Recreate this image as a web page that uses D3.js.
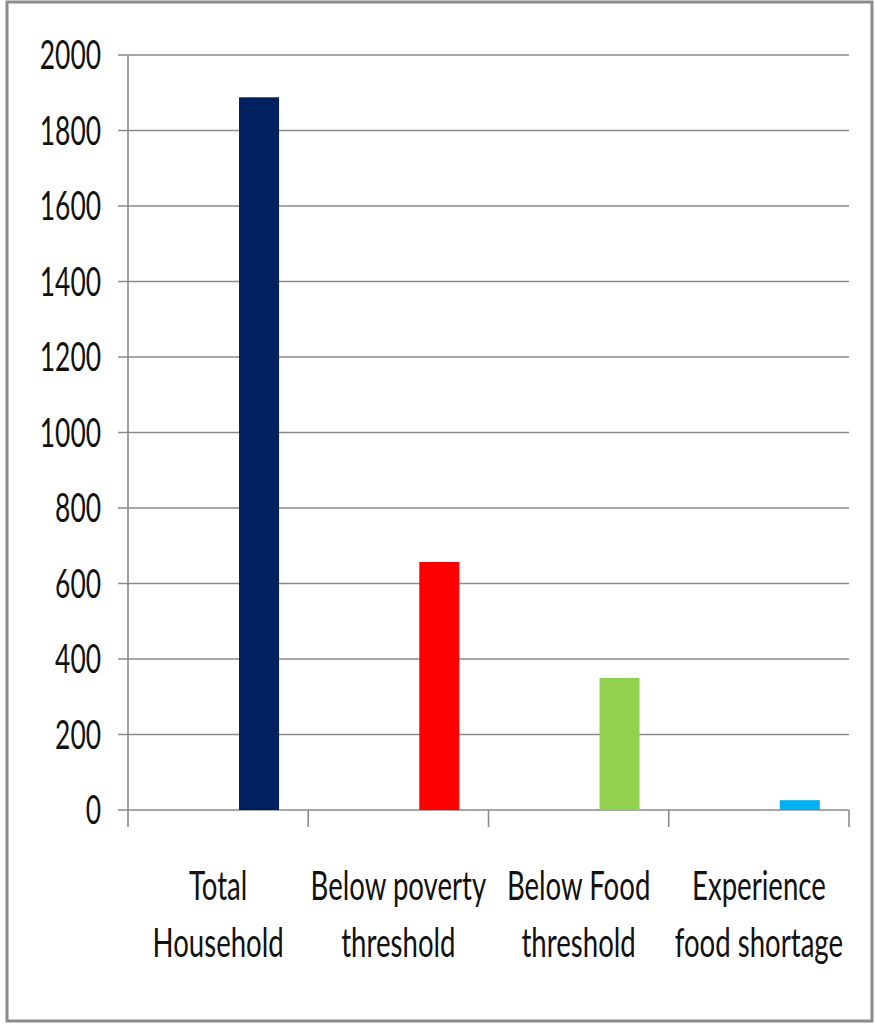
<html>
<head>
  <meta charset="utf-8">
  <style>
    body { margin: 0; background: #fff; }
    svg text { font-family: Lato, "Open Sans", sans-serif; fill: #111; }
  </style>
</head>
<body>
  <svg></svg>
  <script src="https://d3js.org/d3.v7.min.js"></script>
  <script>
    let width = 875, height = 1024;

    // data
    let categories = ["Total Household", "Below poverty threshold", "Below Food threshold", "Experience food shortage"];
    let labelLines = [["Total", "Household"], ["Below poverty", "threshold"], ["Below Food", "threshold"], ["Experience", "food shortage"]];
    let values = [1888, 657, 350, 26];
    let colors = ["#002060", "#ff0000", "#92d050", "#00b0f0"];
    let yTicks = [0, 200, 400, 600, 800, 1000, 1200, 1400, 1600, 1800, 2000];

    let svg = d3.select("svg")
        .attr("width", width)
        .attr("height", height);

    // outer frame
    svg.append("rect")
        .attr("x", 7).attr("y", 2)
        .attr("width", 865).attr("height", 1019)
        .attr("fill", "none")
        .attr("stroke", "#8c8c8c")
        .attr("stroke-width", 3);

    let mLeft = 128, mRight = 849, mTop = 55, mBottom = 810;
    let sx = 0.66;  // condensed look of the tick labels
    let sxc = 0.69; // category labels

    let x = d3.scaleBand().domain(categories).range([mLeft, mRight]);
    let y = d3.scaleLinear().domain([0, 2000]).range([mBottom, mTop]);

    // gridlines + y ticks
    svg.append("g")
        .selectAll("line")
        .data(yTicks)
        .enter()
        .append("line")
        .attr("x1", mLeft - 10).attr("x2", mRight)
        .attr("y1", d => y(d)).attr("y2", d => y(d))
        .attr("stroke", "#8a8a8a")
        .attr("stroke-width", 1.6);

    // y axis line
    svg.append("line")
        .attr("x1", mLeft).attr("x2", mLeft)
        .attr("y1", y(2000)).attr("y2", mBottom + 17)
        .attr("stroke", "#8a8a8a")
        .attr("stroke-width", 1.6);

    // category ticks
    let edges = categories.map(c => x(c)).concat([mRight]);
    svg.append("g")
        .selectAll("line")
        .data(edges.slice(1))
        .enter()
        .append("line")
        .attr("x1", d => d).attr("x2", d => d)
        .attr("y1", mBottom).attr("y2", mBottom + 17)
        .attr("stroke", "#8a8a8a")
        .attr("stroke-width", 1.6);

    // y labels
    svg.append("g")
        .selectAll("text")
        .data(yTicks)
        .enter()
        .append("text")
        .attr("transform", d => "translate(101," + (y(d) + 14) + ") scale(" + sx + ",1)")
        .attr("text-anchor", "end")
        .style("font-size", "40px")
        .text(d => d);

    // bars
    svg.append("g")
        .selectAll("rect")
        .data(values)
        .enter()
        .append("rect")
        .attr("x", (d, i) => x(categories[i]) + x.bandwidth() * 0.616)
        .attr("width", x.bandwidth() * 0.222)
        .attr("y", d => y(d))
        .attr("height", d => mBottom - y(d))
        .attr("fill", (d, i) => colors[i]);

    // category labels
    let lab = svg.append("g")
        .selectAll("g")
        .data(categories)
        .enter()
        .append("g")
        .attr("transform", d => "translate(" + (x(d) + x.bandwidth() / 2) + ",0) scale(" + sxc + ",1)");

    lab.selectAll("text")
        .data((d, i) => labelLines[i])
        .enter()
        .append("text")
        .attr("y", (d, j) => 900 + j * 57)
        .attr("text-anchor", "middle")
        .style("font-size", "40px")
        .text(d => d);
  </script>
</body>
</html>
